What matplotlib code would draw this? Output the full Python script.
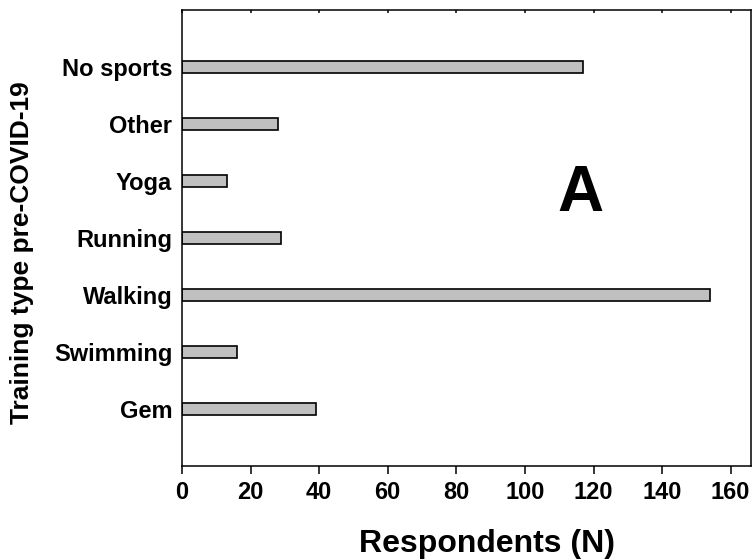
import matplotlib.pyplot as plt
import numpy as np

plt.rcParams['font.family'] = ['Liberation Sans', 'DejaVu Sans']
plt.rcParams['font.weight'] = 'bold'

# training types, bottom to top
sports = ["Gem", "Swimming", "Walking", "Running", "Yoga", "Other", "No sports"]
respondents = [39, 16, 154, 29, 13, 28, 117]
xticks = [0, 20, 40, 60, 80, 100, 120, 140, 160]

fig = plt.figure(figsize=(7.52, 5.6), dpi=100)
ax = fig.add_axes([0.242, 0.168, 0.757, 0.814])

ypos = np.arange(len(sports))
ax.barh(ypos, respondents, height=0.21, color="#c0c0c0",
        edgecolor="black", linewidth=1.2)

ax.set_xlim(0, 166)
ax.set_ylim(-1, 7)
ax.set_xticks(xticks)
ax.set_yticks(ypos)
ax.set_yticklabels(sports)

for side in ["left", "right", "top", "bottom"]:
    ax.spines[side].set_linewidth(1.1)

ax.tick_params(axis="x", direction="out", length=6, width=1.1,
               labelsize=17, pad=5)
ax.tick_params(axis="x", which="major", top=True, labeltop=False)
ax.tick_params(axis="y", length=0, labelsize=17, pad=7)
# small inward ticks along the top edge
for t in ax.xaxis.get_major_ticks():
    t.tick2line.set_markersize(2)
    t.tick2line.set_marker(3)

ax.set_xlabel("Respondents (N)", fontsize=23, fontweight="bold", va="center")
ax.xaxis.set_label_coords(0.536, -0.171)
ax.set_ylabel("Training type pre-COVID-19", fontsize=19, fontweight="bold",
              va="center")
ax.yaxis.set_label_coords(-0.281, 0.467)

ax.text(0.70, 0.597, "A", transform=ax.transAxes, fontsize=46,
        fontweight="bold", ha="center", va="center")

fig.savefig("out.png", dpi=100)
